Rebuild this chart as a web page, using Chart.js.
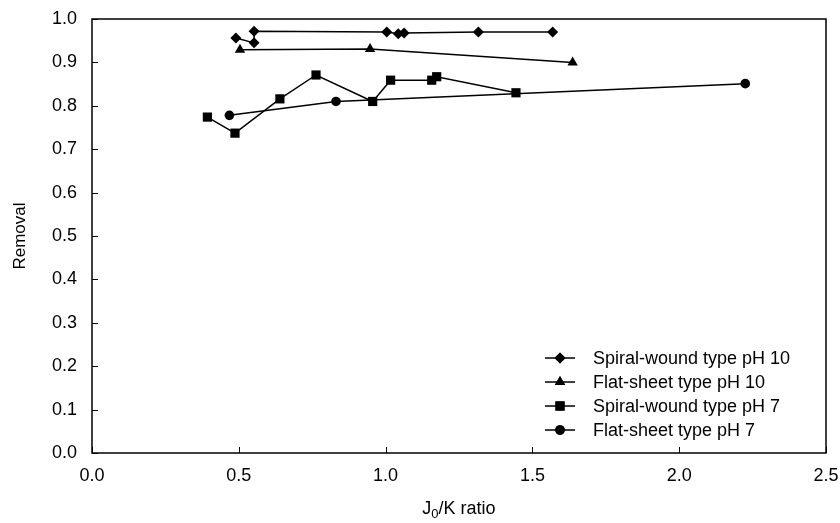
<!DOCTYPE html>
<html>
<head>
<meta charset="utf-8">
<script src="https://cdn.jsdelivr.net/npm/chart.js@4"></script>
<style>
  html, body { margin: 0; padding: 0; background: #fff; }
  #wrap { width: 840px; height: 523px; }
</style>
</head>
<body>
<div id="wrap"><canvas id="chart" width="840" height="523"></canvas></div>
<script>
// values
const spiral10X = [0.490, 0.552, 0.552, 1.004, 1.043, 1.063, 1.316, 1.569];
const spiral10Y = [0.956, 0.945, 0.972, 0.970, 0.966, 0.968, 0.970, 0.970];
const flat10X = [0.504, 0.947, 1.637];
const flat10Y = [0.929, 0.931, 0.900];
const spiral7X = [0.393, 0.487, 0.640, 0.763, 0.956, 1.017, 1.157, 1.174, 1.444];
const spiral7Y = [0.774, 0.737, 0.816, 0.871, 0.810, 0.859, 0.859, 0.867, 0.830];
const flat7X = [0.468, 0.831, 2.225];
const flat7Y = [0.778, 0.810, 0.851];

const seriesNames = ["Spiral-wound type pH 10", "Flat-sheet type pH 10", "Spiral-wound type pH 7", "Flat-sheet type pH 7"];
const xTicks = [0, 0.5, 1, 1.5, 2, 2.5];
const yTicks = [0, 0.1, 0.2, 0.3, 0.4, 0.5, 0.6, 0.7, 0.8, 0.9, 1.0];

const FONT = "'Liberation Sans', Arial, sans-serif";

function pts(xs, ys) {
  return xs.map((x, i) => ({ x: x, y: ys[i] }));
}

function makeSet(label, xs, ys, style, radius) {
  return {
    label: label,
    data: pts(xs, ys),
    showLine: true,
    borderColor: "#000",
    backgroundColor: "#000",
    borderWidth: 1.5,
    pointStyle: style,
    pointRadius: radius,
    pointHoverRadius: radius,
    pointBorderWidth: 0,
    tension: 0,
  };
}

const datasets = [
  makeSet(seriesNames[0], spiral10X, spiral10Y, "rectRot", 5.5),
  makeSet(seriesNames[1], flat10X, flat10Y, "triangle", 6),
  makeSet(seriesNames[2], spiral7X, spiral7Y, "rect", 6.5),
  makeSet(seriesNames[3], flat7X, flat7Y, "circle", 4.8),
];

// frame, inward ticks, x title with subscript, legend inside plot
const decor = {
  id: "decor",
  afterDraw(chart) {
    const ctx = chart.ctx;
    const a = chart.chartArea;
    const xs = chart.scales.x, ys = chart.scales.y;
    ctx.save();
    ctx.strokeStyle = "#000";
    ctx.lineWidth = 1.5;
    ctx.strokeRect(a.left, a.top, a.right - a.left, a.bottom - a.top);
    ctx.beginPath();
    xTicks.forEach(v => {
      const px = Math.round(xs.getPixelForValue(v)) + 0.5;
      ctx.moveTo(px, a.bottom);
      ctx.lineTo(px, a.bottom - 6);
    });
    yTicks.forEach(v => {
      const py = Math.round(ys.getPixelForValue(v)) + 0.5;
      ctx.moveTo(a.left, py);
      ctx.lineTo(a.left + 6, py);
    });
    ctx.lineWidth = 1;
    ctx.stroke();

    // x title: J0/K ratio
    ctx.fillStyle = "#000";
    ctx.textBaseline = "alphabetic";
    const big1 = "J", big2 = "/K ratio";
    ctx.font = "13px " + FONT;
    const subW = ctx.measureText("0").width;
    ctx.font = "18px " + FONT;
    const w1 = ctx.measureText(big1).width, w2 = ctx.measureText(big2).width;
    const total = w1 + subW + w2;
    const x0 = (a.left + a.right) / 2 - total / 2;
    const by = 514;
    ctx.textAlign = "left";
    ctx.fillText(big1, x0, by);
    ctx.font = "13px " + FONT;
    ctx.fillText("0", x0 + w1, by + 4);
    ctx.font = "18px " + FONT;
    ctx.fillText(big2, x0 + w1 + subW, by);

    // legend
    const rowY = [358, 382, 406, 430];
    ctx.font = "18px " + FONT;
    ctx.textBaseline = "middle";
    chart.data.datasets.forEach((ds, i) => {
      const y = rowY[i];
      ctx.beginPath();
      ctx.moveTo(545, y);
      ctx.lineTo(575, y);
      ctx.lineWidth = 1.5;
      ctx.strokeStyle = "#000";
      ctx.stroke();
      ctx.fillStyle = "#000";
      Chart.helpers.drawPoint(ctx, { pointStyle: ds.pointStyle, radius: ds.pointRadius, borderWidth: 0, rotation: 0 }, 560, y);
      ctx.fill();
      ctx.fillText(ds.label, 593, y + 1);
    });
    ctx.restore();
  },
};

new Chart(document.getElementById("chart"), {
  type: "scatter",
  data: { datasets: datasets },
  options: {
    responsive: false,
    animation: false,
    events: [],
    layout: { padding: { left: 0, right: 14, top: 19, bottom: 0 } },
    plugins: {
      legend: { display: false },
      tooltip: { enabled: false },
    },
    scales: {
      x: {
        type: "linear",
        min: 0,
        max: 2.5,
        afterBuildTicks: s => { s.ticks = xTicks.map(v => ({ value: v })); },
        afterFit: s => { s.height = 70; s.paddingLeft = 0; s.paddingRight = 0; },
        grid: { display: false, drawTicks: false },
        border: { display: false },
        ticks: {
          color: "#000",
          padding: 12,
          font: { family: FONT, size: 18 },
          maxRotation: 0,
          callback: v => v.toFixed(1),
        },
      },
      y: {
        type: "linear",
        min: 0,
        max: 1,
        afterBuildTicks: s => { s.ticks = yTicks.map(v => ({ value: v })); },
        afterFit: s => { s.width = 92; s.paddingTop = 0; s.paddingBottom = 0; },
        grid: { display: false, drawTicks: false },
        border: { display: false },
        title: {
          display: true,
          text: "Removal",
          color: "#000",
          font: { family: FONT, size: 17 },
          padding: { top: 10, bottom: 0 },
        },
        ticks: {
          color: "#000",
          padding: 15,
          font: { family: FONT, size: 18 },
          callback: v => v.toFixed(1),
        },
      },
    },
  },
  plugins: [decor],
});
</script>
</body>
</html>
